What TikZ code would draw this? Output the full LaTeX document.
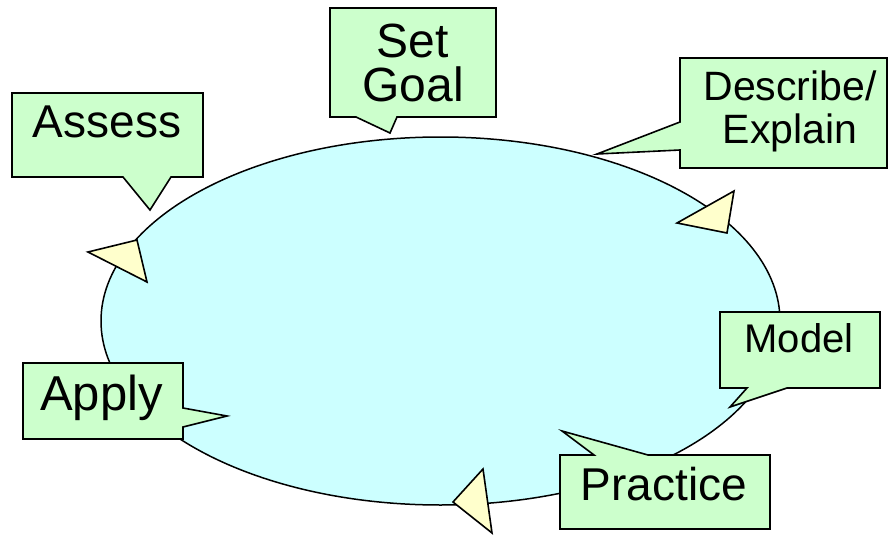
\documentclass[tikz,border=0pt]{standalone}
\usepackage{fontspec}
\setmainfont{Liberation Sans}
\usetikzlibrary{shapes.geometric}
\definecolor{callg}{HTML}{CCFFCC}
\definecolor{ellc}{HTML}{CCFFFF}
\definecolor{triy}{HTML}{FFFFCC}
\begin{document}
\begin{tikzpicture}[x=1pt,y=-1pt,
  callout/.style={draw=black, fill=callg, line width=1.6pt, line join=miter},
  arrowtri/.style={draw=black, fill=triy, line width=1.6pt, line join=miter},
  lbl/.style={inner sep=0pt, anchor=base, align=center, text=black}]
\useasboundingbox (0,0) rectangle (889,535);
% the cycle
\node (cycle) [ellipse, draw=black, fill=ellc, line width=1.5pt, inner sep=0pt,
  minimum width=679pt, minimum height=368pt] at (440.5,321) {};
% arrowheads on the cycle
\filldraw[arrowtri] (88,252) -- (137,240) -- (147,282) -- cycle;
\filldraw[arrowtri] (677,223) -- (734,191) -- (727,233) -- cycle;
\filldraw[arrowtri] (453,502) -- (483,469) -- (492,533) -- cycle;
% callouts
\filldraw[callout] (12,93) -- (203,93) -- (203,177) -- (171,177) -- (150,210) -- (123,177) -- (12,177) -- cycle;
\filldraw[callout] (330,8) -- (496,8) -- (496,117) -- (397,117) -- (390,133) -- (356,117) -- (330,117) -- cycle;
\filldraw[callout] (680,58) -- (887,58) -- (887,168) -- (680,168) -- (680,150) -- (597,154) -- (680,122) -- cycle;
\filldraw[callout] (720,312) -- (880,312) -- (880,388) -- (787,388) -- (730,407) -- (747,388) -- (720,388) -- cycle;
\filldraw[callout] (560,455) -- (594,455) -- (562,431) -- (648,455) -- (770,455) -- (770,529) -- (560,529) -- cycle;
\filldraw[callout] (23,363) -- (183,363) -- (183,408) -- (227,416) -- (183,427) -- (183,439) -- (23,439) -- cycle;
% labels
\node (assess) [lbl, font=\fontsize{46}{50}\selectfont] at (107,137) {Assess};
\node (setgoal) [lbl, font=\fontsize{48}{44}\selectfont] at (413,102) {Set\\Goal};
\node (describe) [lbl, font=\fontsize{41}{43}\selectfont] at (790,143) {Describe/\\Explain};
\node (model) [lbl, font=\fontsize{40}{44}\selectfont] at (799,352) {Model};
\node (practice) [lbl, font=\fontsize{46}{50}\selectfont] at (664,500) {Practice};
\node (apply) [lbl, font=\fontsize{49}{52}\selectfont] at (101.5,410) {Apply};
\end{tikzpicture}
\end{document}
